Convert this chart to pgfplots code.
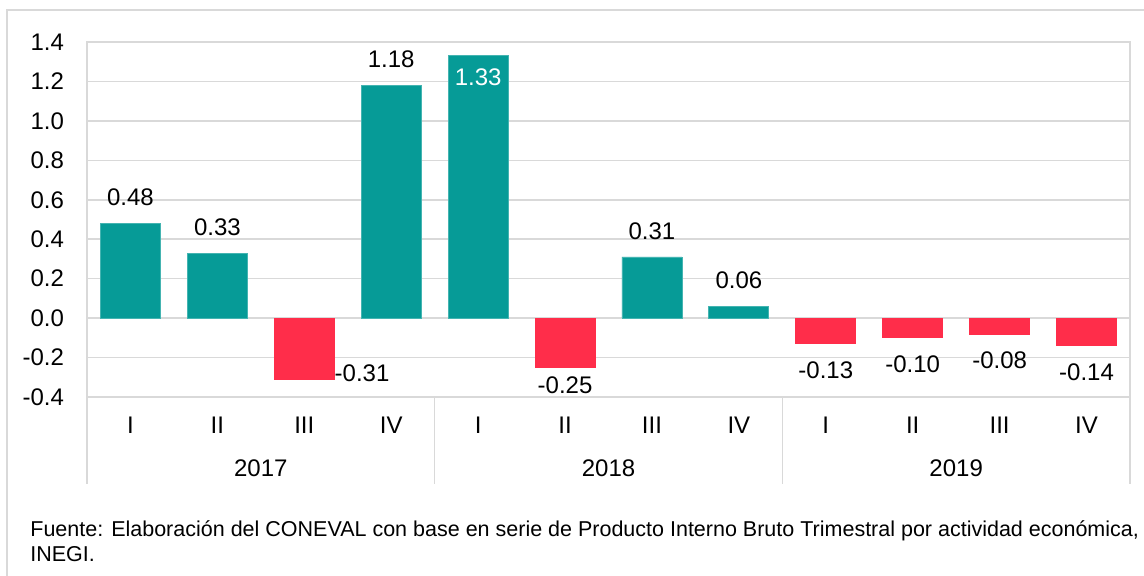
\documentclass[border=0pt]{standalone}
\usepackage{fontspec}
\setmainfont{Liberation Sans}
\usepackage{pgfplots}
\pgfplotsset{compat=1.18}
\definecolor{tealbar}{HTML}{069B97}
\definecolor{redbar}{HTML}{FF2D4A}
\definecolor{gridc}{HTML}{D9D9D9}
\begin{document}
\begin{tikzpicture}
\useasboundingbox (0,0) rectangle (572pt,-287.5pt);
\draw[gridc, line width=0.75pt] (3.5pt,-300pt) -- (3.5pt,-5pt) -- (580pt,-5pt);
\begin{axis}[
  at={(43.5pt,-198.5pt)}, anchor=south west,
  width=521.5pt, height=177.5pt, scale only axis,
  xmin=-0.5, xmax=11.5, ymin=-0.4, ymax=1.4,
  ytick={-0.4,-0.2,0,0.2,0.4,0.6,0.8,1.0,1.2,1.4},
  xtick={0,1,2,3,4,5,6,7,8,9,10,11},
  xticklabels={I,II,III,IV,I,II,III,IV,I,II,III,IV},
  major tick length=0pt, tick style={draw=none},
  ymajorgrids, grid style={gridc, line width=0.75pt},
  axis line style={gridc, line width=0.75pt},
  font=\fontsize{12}{14}\selectfont,
  /pgf/number format/assume math mode=true,
  yticklabel style={/pgf/number format/fixed, /pgf/number format/fixed zerofill, /pgf/number format/precision=1, xshift=-8pt},
  xticklabel style={anchor=center, yshift=-14pt},
  ybar, bar width=30pt, bar shift=0pt,
  clip=false,
  point meta=y,
  nodes near coords={\pgfmathprintnumber[fixed,fixed zerofill,precision=2]{\pgfplotspointmeta}},
]
% positive, labels above
\addplot[fill=tealbar, draw=tealbar!75!white,
  every node near coord/.append style={anchor=center, yshift=13pt, text=black}]
  coordinates {(0,0.48) (1,0.33) (3,1.18) (6,0.31) (7,0.06)};
% positive, label inside in white
\addplot[fill=tealbar, draw=tealbar!75!white,
  every node near coord/.append style={anchor=center, yshift=-10.5pt, text=white}]
  coordinates {(4,1.33)};
% negative, labels below
\addplot[fill=redbar, draw=redbar,
  every node near coord/.append style={anchor=center, yshift=-13pt, text=black}]
  coordinates {(8,-0.13) (9,-0.10) (10,-0.08) (11,-0.14)};
\addplot[fill=redbar, draw=redbar,
  every node near coord/.append style={anchor=center, yshift=-9pt, text=black}]
  coordinates {(5,-0.25)};
% negative, label to the right
\addplot[fill=redbar, draw=redbar,
  every node near coord/.append style={anchor=west, xshift=15pt, yshift=3pt, inner sep=0pt, text=black}]
  coordinates {(2,-0.31)};
% group separators and year labels
\foreach \xx in {-0.5,3.5,7.5,11.5} {
  \edef\temp{\noexpand\draw[gridc, line width=0.75pt] (axis cs:\xx,-0.4) -- ([yshift=-43.5pt]axis cs:\xx,-0.4);}
  \temp
}
\node[anchor=center, yshift=-35.5pt] at (axis cs:1.5,-0.4) {2017};
\node[anchor=center, yshift=-35.5pt] at (axis cs:5.5,-0.4) {2018};
\node[anchor=center, yshift=-35.5pt] at (axis cs:9.5,-0.4) {2019};
\end{axis}
\node[anchor=west, inner sep=0pt, font=\fontsize{10.75}{12}\selectfont] at (15pt,-265.5pt) {Fuente: Elaboración del CONEVAL con base en serie de Producto Interno Bruto Trimestral por actividad económica,};
\node[anchor=west, inner sep=0pt, font=\fontsize{10.75}{12}\selectfont] at (15pt,-277pt) {INEGI.};
\end{tikzpicture}
\end{document}
